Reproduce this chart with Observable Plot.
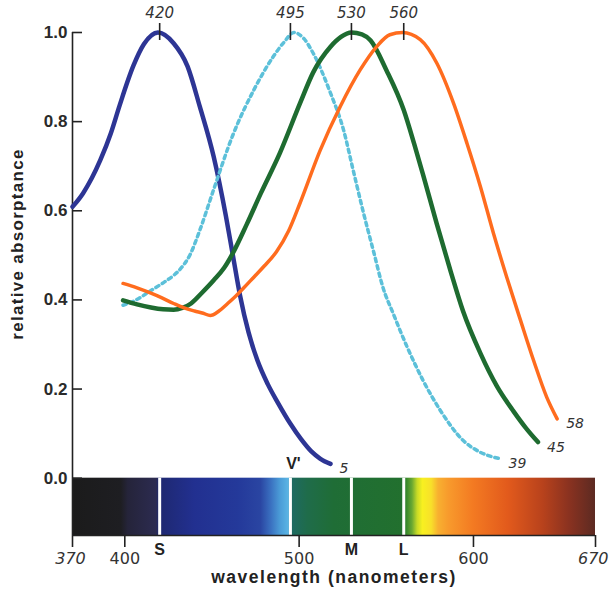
<!DOCTYPE html>
<html>
<head>
<meta charset="utf-8">
<script src="https://cdn.jsdelivr.net/npm/d3@7"></script>
<script src="https://cdn.jsdelivr.net/npm/@observablehq/plot@0.6"></script>
<style>
  html, body { margin: 0; padding: 0; background: #fff; }
</style>
</head>
<body>
<div id="chart"></div>
<script>
// ---- data ----
const sNm   = [370,376,386,392,397,405,411,419,428,436,443,451,458,462,466,471,476,482,488,495,501,507,512,518];
const sVal  = [0.609,0.639,0.714,0.774,0.836,0.926,0.974,1.0,0.976,0.924,0.834,0.721,0.588,0.50,0.412,0.327,0.265,0.211,0.168,0.122,0.088,0.06,0.044,0.032];

const vNm   = [399,406,415,423,428,432,437.5,443,451,462,474,485,491.5,497,503,508,518,525.5,531,537,543,548,554,562,571,581,594,604,615];
const vVal  = [0.388,0.399,0.421,0.441,0.455,0.47,0.502,0.556,0.648,0.77,0.871,0.945,0.979,1.0,0.985,0.954,0.864,0.781,0.691,0.594,0.504,0.429,0.369,0.294,0.22,0.152,0.085,0.058,0.044];

const mNm   = [399,407,415,422,428,433,438,444,451,457,462,470,478,489,500.6,508,518,524,530,536,541,550,560,566,571,579,587,594,604,613.5,623,630,637];
const mVal  = [0.399,0.39,0.383,0.379,0.378,0.382,0.392,0.415,0.444,0.472,0.505,0.57,0.639,0.73,0.842,0.91,0.968,0.99,1.0,0.996,0.982,0.916,0.826,0.75,0.682,0.57,0.463,0.375,0.28,0.206,0.15,0.113,0.081];

const lNm   = [399,407,415,421,428,434,440,445,449,454,459,464,468,474,480,487,494,500.6,512,523.6,535,544.6,552,559.3,569.5,579,588.6,596.3,604,611.5,619,627,634.5,642,648];
const lVal  = [0.437,0.427,0.415,0.405,0.392,0.382,0.375,0.37,0.365,0.375,0.392,0.41,0.426,0.451,0.476,0.508,0.555,0.618,0.735,0.834,0.916,0.969,0.995,1.0,0.984,0.931,0.841,0.751,0.654,0.549,0.452,0.354,0.264,0.182,0.133];

const peakNm     = [420, 495, 530, 560];
const peakLabels = ["420", "495", "530", "560"];
const coneLabels = ["S", "V'", "M", "L"];
const endLabels  = ["5", "39", "45", "58"];

const yTicks = [0, 0.2, 0.4, 0.6, 0.8, 1.0];
const xTicksPlain = [400, 500, 600];
const xTickFirst  = 370;
const xTickLast   = 670;

const spectrumNm    = [370,398,402,418,420,440,465,478,484,489,494,496,505,520,560,562,565,568,571,576,580,586,600,620,640,655,670];
const spectrumColor = ["#1b1b1b","#1e1e22","#25243a","#2c2b50","#1e2870","#223090","#24399a","#2a45a2","#3a70c0","#4a9ad6","#5ab4e4","#1e6a62","#1f6c4a","#1f6d36","#22702e","#3a8a2c","#6aa832","#c8da26","#f8f020","#f8e02a","#f8b030","#f89a2c","#f37a22","#e25a1c","#b8421c","#8a3220","#5c2a22"];

const curveColors = ["#2d3594", "#5cc0d9", "#1e6b30", "#ff6c1e"];

// ---- build tables ----
const mk = (nm, val) => nm.map((x, i) => ({x, y: val[i]}));
const S = mk(sNm, sVal), V = mk(vNm, vVal), M = mk(mNm, mVal), L = mk(lNm, lVal);
const ends = [S, V, M, L].map((arr, i) => ({...arr[arr.length - 1], label: endLabels[i]}));
const peaks = peakNm.map((x, i) => ({x, label: peakLabels[i], cone: coneLabels[i]}));

const xMin = xTickFirst, xMax = xTickLast;
const yMin = -0.1286, yMax = 1.0;
const boldFont = "Liberation Sans, Arial, sans-serif";
const curveType = "monotone-x";

const svg = Plot.plot({
  width: 611,
  height: 592,
  marginLeft: 72,
  marginRight: 16,
  marginTop: 32,
  marginBottom: 57,
  style: {fontFamily: "DejaVu Sans, sans-serif", background: "#fff", color: "#333"},
  x: {domain: [xMin, xMax], axis: null},
  y: {domain: [yMin, yMax], axis: null},
  marks: [
    // spectrum bar
    Plot.rect([{x1: xMin, x2: xMax, y1: yMin, y2: 0}], {x1: "x1", x2: "x2", y1: "y1", y2: "y2", fill: "url(#spec)"}),
    Plot.ruleX(peakNm, {y1: yMin, y2: 0, stroke: "#fff", strokeWidth: 3}),
    // axes lines
    Plot.ruleX([xMin], {y1: yMin, y2: yMax, stroke: "#222", strokeWidth: 1.6}),
    Plot.ruleY([yMin], {x1: xMin, x2: xMax, stroke: "#222", strokeWidth: 1.6}),
    // y ticks (inward) and labels
    Plot.ruleY(yTicks, {x1: xMin, x2: xMin, insetRight: -10, stroke: "#222", strokeWidth: 1.6}),
    Plot.text(yTicks, {x: xMin, y: d => d, text: d => d.toFixed(1), textAnchor: "end", dx: -5, fontSize: 17, fontWeight: "bold", fontFamily: boldFont, fill: "#2a2a2a"}),
    // x ticks (down) and labels
    Plot.ruleX([xTickFirst, ...xTicksPlain, xTickLast], {y1: yMin, y2: yMin, insetBottom: -12, stroke: "#222", strokeWidth: 1.6}),
    Plot.text(xTicksPlain, {x: d => d, y: yMin, dy: 23, text: d => String(d), fontSize: 16, fill: "#333"}),
    Plot.text([xTickFirst], {x: d => d, y: yMin, dy: 23, dx: -2, text: d => String(d), fontSize: 16, fontStyle: "italic", fill: "#333"}),
    Plot.text([xTickLast], {x: d => d, y: yMin, dy: 23, dx: 13, textAnchor: "end", text: d => String(d), fontSize: 16, fontStyle: "italic", fill: "#333"}),
    // curves
    Plot.line(S, {x: "x", y: "y", stroke: curveColors[0], strokeWidth: 4.5, curve: curveType}),
    Plot.line(V, {x: "x", y: "y", stroke: curveColors[1], strokeWidth: 3.5, strokeDasharray: "3.5 4", curve: curveType}),
    Plot.line(M, {x: "x", y: "y", stroke: curveColors[2], strokeWidth: 4.5, curve: curveType}),
    Plot.line(L, {x: "x", y: "y", stroke: curveColors[3], strokeWidth: 3.5, curve: curveType}),
    // end labels
    Plot.text(ends, {x: "x", y: "y", text: "label", textAnchor: "start", dx: 9, dy: 5, fontSize: 14, fontStyle: "italic", fill: "#333"}),
    // peak ticks + labels
    Plot.ruleX(peaks, {x: "x", y1: () => yMax, y2: () => yMax, insetTop: -9, insetBottom: -8, stroke: "#222", strokeWidth: 1.6}),
    Plot.text(peaks, {x: "x", y: () => yMax, text: "label", dy: -19, fontSize: 15, fontStyle: "italic", fill: "#333"}),
    // cone labels
    Plot.text(peaks.filter(d => d.cone !== "V'"), {x: "x", y: () => yMin, text: "cone", dy: 14, fontSize: 16, fontWeight: "bold", fontFamily: boldFont, fill: "#222"}),
    Plot.text(peaks.filter(d => d.cone === "V'"), {x: "x", y: () => 0, text: "cone", dy: -14, dx: 3, fontSize: 16, fontWeight: "bold", fontFamily: boldFont, fill: "#222"}),
    // axis titles
    Plot.text(["wavelength (nanometers)"], {frameAnchor: "bottom", textAnchor: "middle", dy: 47.5, fontSize: 17.5, fontWeight: "bold", fontFamily: boldFont, fill: "#222"}),
    Plot.text(["relative absorptance"], {frameAnchor: "left", textAnchor: "middle", rotate: -90, dx: -55, dy: -40, fontSize: 17, fontWeight: "bold", fontFamily: boldFont, fill: "#222"})
  ]
});

// gradient for spectrum
const defs = d3.select(svg).insert("defs", ":first-child");
const grad = defs.append("linearGradient").attr("id", "spec").attr("x1", "0").attr("x2", "1").attr("y1", "0").attr("y2", "0");
spectrumNm.forEach((nm, i) => {
  grad.append("stop").attr("offset", (nm - xMin) / (xMax - xMin)).attr("stop-color", spectrumColor[i]);
});
// letter spacing for titles
d3.select(svg).selectAll("text").filter(function() { return this.textContent === "relative absorptance"; }).style("letter-spacing", "1.3px");
d3.select(svg).selectAll("text").filter(function() { return this.textContent === "wavelength (nanometers)"; }).style("letter-spacing", "1.5px");

document.getElementById("chart").appendChild(svg);
</script>
</body>
</html>
